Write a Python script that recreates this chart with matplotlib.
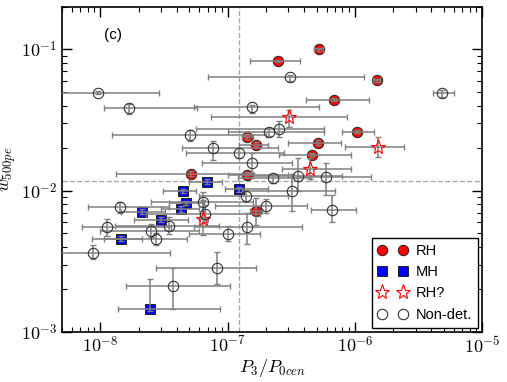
import matplotlib
matplotlib.use('Agg')
import matplotlib.pyplot as plt
import numpy as np
from matplotlib.ticker import FuncFormatter, LogLocator

plt.rcParams['mathtext.fontset'] = 'cm'
plt.rcParams['font.family'] = ['Liberation Sans', 'DejaVu Sans']

# RH (red filled circles)
rh_x = [2.48e-7, 5.2e-7, 1.49e-6, 6.84e-7, 1.04e-6, 5.12e-7, 4.58e-7, 1.43e-7, 1.66e-7, 5.21e-8, 1.41e-7, 1.66e-7]
rh_y = [0.0822, 0.100, 0.0603, 0.0441, 0.0262, 0.0219, 0.0180, 0.0241, 0.0212, 0.0132, 0.0130, 0.00721]
rh_xlo = [1.49e-7, 4.8e-7, 1.40e-6, 4.11e-7, 7.9e-7, 2.96e-7, 2.56e-7, 1.30e-7, 1.24e-7, 1.34e-8, 1.0e-7, 1.5e-7]
rh_xhi = [3.69e-7, 5.6e-7, 1.58e-6, 1.29e-6, 1.41e-6, 7.76e-7, 9.3e-7, 1.58e-7, 2.07e-7, 1.6e-7, 3.0e-7, 1.85e-7]
rh_ylo = [0.081, 0.098, 0.059, 0.043, 0.0255, 0.021, 0.0175, 0.0233, 0.0205, 0.0128, 0.0125, 0.00574]
rh_yhi = [0.084, 0.102, 0.062, 0.045, 0.027, 0.0228, 0.0185, 0.025, 0.022, 0.0137, 0.0135, 0.0089]

# MH (blue squares)
mh_x = [6.96e-8, 4.51e-8, 1.22e-7, 4.75e-8, 4.35e-8, 2.14e-8, 3.02e-8, 1.46e-8, 2.48e-8]
mh_y = [0.0116, 0.0100, 0.0102, 0.00822, 0.00744, 0.00709, 0.00622, 0.00457, 0.00146]
mh_xlo = [5.0e-8, 3.13e-8, 9.5e-8, 3.5e-8, 3.0e-8, 1.46e-8, 1.85e-8, 8.65e-9, 1.39e-8]
mh_xhi = [9.1e-8, 5.70e-8, 2.07e-7, 6.5e-8, 6.0e-8, 3.2e-8, 4.93e-8, 2.14e-8, 8.8e-8]
mh_ylo = [0.0112, 0.0097, 0.0098, 0.0079, 0.0071, 0.0068, 0.0060, 0.0044, 0.00140]
mh_yhi = [0.0120, 0.0103, 0.0106, 0.0085, 0.0078, 0.0074, 0.0065, 0.0048, 0.00238]

# RH? (open red stars)
rq_x = [3.02e-7, 1.52e-6, 4.43e-7, 6.47e-8]
rq_y = [0.0335, 0.0205, 0.0143, 0.00632]
rq_xlo = [7.48e-8, 8.34e-7, 2.66e-7, 6.0e-8]
rq_xhi = [8.65e-7, 2.43e-6, 9.3e-7, 7.0e-8]
rq_ylo = [0.0284, 0.0174, 0.0120, 0.00488]
rq_yhi = [0.0375, 0.0241, 0.0171, 0.00863]

# Non-detections (open black circles)
nd_x = [9.64e-9, 1.69e-8, 1.57e-7, 3.08e-7, 4.84e-6, 5.12e-8, 2.10e-7, 2.56e-7, 7.76e-8, 1.22e-7,
        1.55e-7, 2.26e-7, 3.56e-7, 5.92e-7, 3.19e-7, 6.59e-7, 1.99e-7, 1.39e-7, 1.41e-7, 1.0e-7,
        6.47e-8, 6.71e-8, 1.44e-8, 1.14e-8, 2.52e-8, 3.49e-8, 2.76e-8, 8.8e-9, 8.34e-8, 3.76e-8]
nd_y = [0.0495, 0.0382, 0.0388, 0.0633, 0.0495, 0.0249, 0.0262, 0.0275, 0.0199, 0.0186,
        0.0158, 0.0122, 0.0128, 0.0126, 0.0100, 0.00732, 0.00783, 0.00922, 0.00556, 0.00495,
        0.00836, 0.00687, 0.00771, 0.00556, 0.00520, 0.00565, 0.00457, 0.00363, 0.00284, 0.00212]
nd_xlo = [4e-9, 1.07e-8, 5.5e-8, 7.08e-8, 4.11e-6, 1.24e-8, 1.0e-7, 5.7e-8, 4.43e-8, 4.7e-8,
          6.3e-8, 1.2e-7, 1.6e-7, 3.5e-7, 1.3e-7, 4.5e-7, 8e-8, 6e-8, 5.5e-8, 5.0e-8,
          2.5e-8, 2.3e-8, 8e-9, 7.2e-9, 1.0e-8, 1.3e-8, 1.08e-8, 4.7e-9, 2.76e-8, 1.60e-8]
nd_xhi = [2.92e-8, 5.81e-8, 5.2e-7, 1.18e-6, 6.03e-6, 2.0e-7, 5.7e-7, 5.7e-7, 2.5e-7, 2.8e-7,
          3.2e-7, 4.5e-7, 8e-7, 1.33e-6, 6.97e-7, 1.03e-6, 4.2e-7, 3.0e-7, 3.83e-7, 1.8e-7,
          1.6e-7, 1.8e-7, 3.5e-8, 3.6e-8, 6e-8, 8.5e-8, 4.8e-8, 3.56e-8, 1.66e-7, 1.04e-7]
nd_ylo = [0.048, 0.035, 0.0357, 0.060, 0.046, 0.0225, 0.0245, 0.0238, 0.0166, 0.0170,
          0.0133, 0.0113, 0.0100, 0.00937, 0.00721, 0.0060, 0.0070, 0.0083, 0.00421, 0.0044,
          0.0072, 0.0060, 0.0069, 0.0048, 0.0047, 0.0049, 0.0041, 0.0033, 0.00219, 0.00146]
nd_yhi = [0.051, 0.041, 0.0405, 0.066, 0.052, 0.027, 0.028, 0.0309, 0.0226, 0.0200,
          0.0185, 0.0132, 0.0169, 0.0158, 0.0132, 0.00937, 0.0087, 0.0100, 0.0070, 0.0056,
          0.00984, 0.0079, 0.0083, 0.0063, 0.0058, 0.0065, 0.0050, 0.0041, 0.00369, 0.00284]

p3_cut = 1.22e-7
w_cut = 0.0118

fig = plt.figure(figsize=(5.07, 3.82), dpi=100)
ax = fig.add_axes([0.122, 0.131, 0.829, 0.851])
ax.set_xscale('log')
ax.set_yscale('log')

ax.axvline(p3_cut, color='#aaaaaa', ls='--', lw=1, zorder=1)
ax.axhline(w_cut, color='#aaaaaa', ls='--', lw=1, zorder=1)

def bars(x, y, xlo, xhi, ylo, yhi):
    x, y = np.array(x), np.array(y)
    xe = [x - np.array(xlo), np.array(xhi) - x]
    ye = [y - np.array(ylo), np.array(yhi) - y]
    ax.errorbar(x, y, xerr=xe, yerr=ye, fmt='none', ecolor='#808080',
                elinewidth=1.1, capsize=2.2, capthick=1.0, zorder=3)

bars(nd_x, nd_y, nd_xlo, nd_xhi, nd_ylo, nd_yhi)
bars(rh_x, rh_y, rh_xlo, rh_xhi, rh_ylo, rh_yhi)
bars(mh_x, mh_y, mh_xlo, mh_xhi, mh_ylo, mh_yhi)
bars(rq_x, rq_y, rq_xlo, rq_xhi, rq_ylo, rq_yhi)

ax.plot(rh_x, rh_y, 'o', ms=7.5, mfc='red', mec='#222222', mew=0.7, ls='none', label='RH', zorder=2)
ax.plot(mh_x, mh_y, 's', ms=7, mfc='blue', mec='#222222', mew=0.7, ls='none', label='MH', zorder=2)
ax.plot(rq_x, rq_y, '*', ms=11, mfc='none', mec='red', mew=0.8, ls='none', label='RH?', zorder=4)
ax.plot(nd_x, nd_y, 'o', ms=7.5, mfc='none', mec='#333333', mew=0.8, ls='none', label='Non-det.', zorder=4)

ax.set_xlim(5e-9, 1e-5)
ax.set_ylim(1e-3, 0.2)

fmt = FuncFormatter(lambda v, p: r'$10^{%d}$' % round(np.log10(v)))
ax.xaxis.set_major_formatter(fmt)
ax.yaxis.set_major_formatter(fmt)
ax.xaxis.set_major_locator(LogLocator(base=10, numticks=10))
ax.yaxis.set_major_locator(LogLocator(base=10, numticks=10))
ax.tick_params(which='both', direction='in', top=True, right=True, labelsize=13)
ax.tick_params(which='major', length=7, width=1)
ax.tick_params(which='minor', length=3.5, width=0.8)
ax.tick_params(axis='x', pad=3)
for s in ax.spines.values():
    s.set_linewidth(1.2)

ax.set_xlabel(r'$P_3/P_{0cen}$', fontsize=13, labelpad=0)
ax.set_ylabel(r'$w_{500pe}$', fontsize=13, labelpad=2)
ax.text(0.1, 0.9, '(c)', transform=ax.transAxes, fontsize=11)

leg = ax.legend(loc='lower right', numpoints=2, fancybox=False, edgecolor='black',
                framealpha=1, fontsize=10.5, borderaxespad=0.3, handletextpad=0.6,
                labelspacing=0.5)
leg.get_frame().set_linewidth(1.0)

fig.savefig('out.png', dpi=100)
